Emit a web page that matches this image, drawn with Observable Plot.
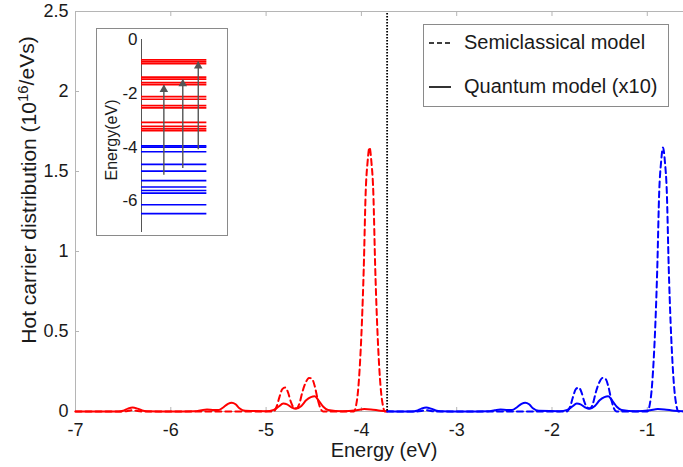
<!DOCTYPE html>
<html><head><meta charset="utf-8">
<script src="https://cdn.jsdelivr.net/npm/d3@7"></script>
<script src="https://cdn.jsdelivr.net/npm/@observablehq/plot@0.6"></script>
<style>
body{margin:0;background:#fff;}
#wrap{position:relative;width:683px;height:467px;font-family:"Liberation Sans",Arial,sans-serif;}
#inset{position:absolute;left:96px;top:28px;border:1px solid #8a8a8a;background:#fff;line-height:0;}
</style></head><body><div id="wrap"><div id="main"></div><div id="inset"></div></div>
<script>
// ---------- data ----------
const xTicks = [-7, -6, -5, -4, -3, -2, -1];
const yTicks = [0, 0.5, 1, 1.5, 2, 2.5];
const xDomain = [-7, -0.62];
const yDomain = [0, 2.5];
const fermiLevel = -3.73;

// Semiclassical model (dashed), red: below Fermi level
const redSemi = [[-7,0],[-6.5,0],[-6.44,0.004],[-6.4,0.008],[-6.36,0.004],[-6.3,0],[-4.92,0],[-4.89,0.03],[-4.86,0.09],[-4.83,0.14],[-4.80,0.15],[-4.77,0.12],[-4.74,0.06],[-4.71,0.025],[-4.68,0.02],[-4.65,0.05],[-4.62,0.12],[-4.585,0.18],[-4.55,0.21],[-4.52,0.205],[-4.49,0.16],[-4.46,0.08],[-4.43,0.02],[-4.40,0],[-4.08,0],[-4.055,0.04],[-4.035,0.13],[-4.015,0.3],[-3.995,0.55],[-3.975,0.9],[-3.955,1.37],[-3.935,1.56],[-3.915,1.65],[-3.895,1.56],[-3.875,1.37],[-3.855,0.9],[-3.835,0.55],[-3.815,0.3],[-3.795,0.13],[-3.775,0.04],[-3.755,0],[-3.73,0]];
// Quantum model x10 (solid), red
const redQuantum = [[-7,0],[-6.55,0],[-6.5,0.005],[-6.45,0.018],[-6.4,0.025],[-6.35,0.018],[-6.3,0.006],[-6.25,0.002],[-6.0,0],[-5.75,0.002],[-5.68,0.008],[-5.62,0.012],[-5.56,0.01],[-5.5,0.009],[-5.45,0.025],[-5.40,0.048],[-5.36,0.055],[-5.32,0.045],[-5.28,0.02],[-5.22,0.004],[-5.0,0.002],[-4.92,0.01],[-4.87,0.03],[-4.82,0.05],[-4.78,0.045],[-4.73,0.025],[-4.69,0.017],[-4.63,0.035],[-4.58,0.07],[-4.53,0.09],[-4.49,0.095],[-4.45,0.07],[-4.40,0.03],[-4.35,0.01],[-4.2,0.002],[-4.05,0.008],[-3.97,0.015],[-3.9,0.013],[-3.8,0.005],[-3.73,0.002]];
// Semiclassical model (dashed), blue: above Fermi level
const blueSemi = [[-3.73,0],[-3.42,0],[-3.36,0.004],[-3.32,0.008],[-3.28,0.004],[-3.22,0],[-1.84,0],[-1.81,0.03],[-1.78,0.09],[-1.75,0.14],[-1.72,0.15],[-1.69,0.12],[-1.66,0.06],[-1.63,0.025],[-1.60,0.02],[-1.57,0.05],[-1.54,0.12],[-1.505,0.18],[-1.47,0.21],[-1.44,0.205],[-1.41,0.16],[-1.38,0.08],[-1.35,0.02],[-1.32,0],[-1.0,0],[-0.975,0.04],[-0.955,0.13],[-0.935,0.3],[-0.915,0.55],[-0.895,0.9],[-0.875,1.37],[-0.855,1.56],[-0.835,1.65],[-0.815,1.56],[-0.795,1.37],[-0.775,0.9],[-0.755,0.55],[-0.735,0.3],[-0.715,0.13],[-0.695,0.04],[-0.675,0],[-0.62,0]];
// Quantum model x10 (solid), blue
const blueQuantum = [[-3.73,0.002],[-3.47,0],[-3.42,0.005],[-3.37,0.018],[-3.32,0.025],[-3.27,0.018],[-3.22,0.006],[-3.17,0.002],[-2.92,0],[-2.67,0.002],[-2.60,0.008],[-2.54,0.012],[-2.48,0.01],[-2.42,0.009],[-2.37,0.025],[-2.32,0.048],[-2.28,0.055],[-2.24,0.045],[-2.20,0.02],[-2.14,0.004],[-1.92,0.002],[-1.84,0.01],[-1.79,0.03],[-1.74,0.05],[-1.70,0.045],[-1.65,0.025],[-1.61,0.017],[-1.55,0.035],[-1.50,0.07],[-1.45,0.09],[-1.41,0.095],[-1.37,0.07],[-1.32,0.03],[-1.27,0.01],[-1.12,0.002],[-0.97,0.008],[-0.89,0.015],[-0.82,0.013],[-0.72,0.005],[-0.62,0.002]];

// Inset: energy levels (eV)
const insetTicks = [0, -2, -4, -6];
const insetDomain = [-7.17, 0];
const redLevels = [-0.755,-0.83,-0.90,-1.40,-1.47,-1.60,-1.68,-2.12,-2.22,-2.46,-2.54,-3.08,-3.23,-3.32,-3.39];
const blueLevels = [-3.95,-4.00,-4.17,-4.64,-4.89,-5.24,-5.48,-5.61,-5.71,-6.14,-6.47];
const transitions = [
  {pos: 0.26, from: -4.89, to: -1.71},
  {pos: 0.48, from: -4.64, to: -1.50},
  {pos: 0.66, from: -3.95, to: -0.84}
];
const legendItems = [
  {label: "Semiclassical model", dash: "5,3"},
  {label: "Quantum model (x10)", dash: null}
];

// ---------- main chart ----------
const axisGrey = "#b5b5b5";
const font = "Liberation Sans, Arial, sans-serif";
const X = d => d[0], Y = d => d[1];

const main = Plot.plot({
  width: 683, height: 467,
  marginLeft: 75, marginRight: 0, marginTop: 11, marginBottom: 56,
  x: {domain: xDomain},
  y: {domain: yDomain},
  style: {fontFamily: font, fontSize: "18px", background: "white", color: "#1a1a1a", overflow: "visible"},
  marks: [
    Plot.ruleY([yDomain[0]], {stroke: axisGrey}),
    Plot.ruleY([yDomain[1]], {stroke: axisGrey}),
    Plot.ruleX([xDomain[0]], {stroke: axisGrey}),
    Plot.axisX({ticks: xTicks, tickSize: -4, tickPadding: 16, stroke: axisGrey, label: null, tickFormat: d => String(d)}),
    Plot.axisX({anchor: "top", ticks: xTicks, tickSize: -4, stroke: axisGrey, label: null, tickFormat: () => ""}),
    Plot.axisY({ticks: yTicks, tickSize: -4, tickPadding: 11, stroke: axisGrey, label: null, tickFormat: d => String(d)}),
    Plot.line(redQuantum, {x: X, y: Y, stroke: "#ff0000", strokeWidth: 2, curve: "monotone-x"}),
    Plot.line(blueQuantum, {x: X, y: Y, stroke: "#0000ff", strokeWidth: 2, curve: "monotone-x"}),
    Plot.line(redSemi, {x: X, y: Y, stroke: "#ff0000", strokeWidth: 2, strokeDasharray: "6,4", curve: "monotone-x"}),
    Plot.line(blueSemi, {x: X, y: Y, stroke: "#0000ff", strokeWidth: 2, strokeDasharray: "6,4", curve: "monotone-x"}),
    Plot.ruleX([fermiLevel], {stroke: "black", strokeWidth: 1.8, strokeDasharray: "1.5,1.5", insetTop: 2})
  ]
});
document.getElementById("main").appendChild(main);

const svg = d3.select(main);
// axis titles
svg.append("text").attr("x", 384).attr("y", 457).attr("text-anchor", "middle")
  .attr("font-family", font).attr("font-size", 20).attr("fill", "#1a1a1a").text("Energy (eV)");
const yl = svg.append("text").attr("transform", "translate(36,190) rotate(-90)").attr("text-anchor", "middle")
  .attr("font-family", font).attr("font-size", 21).attr("fill", "#1a1a1a");
yl.append("tspan").text("Hot carrier distribution (10");
yl.append("tspan").attr("font-size", 15).attr("dy", -8).text("16");
yl.append("tspan").attr("dy", 6).text("/eVs)");

// legend box
const lg = svg.append("g");
lg.append("rect").attr("x", 423.5).attr("y", 24.5).attr("width", 245).attr("height", 82)
  .attr("fill", "white").attr("stroke", "#8a8a8a");
legendItems.forEach((it, i) => {
  const cy = 43 + i * 44;
  lg.append("line").attr("x1", 429).attr("x2", 451).attr("y1", cy).attr("y2", cy)
    .attr("stroke", "black").attr("stroke-width", 1.6).attr("stroke-dasharray", it.dash);
  lg.append("text").attr("x", 464).attr("y", cy + 6).attr("text-anchor", "start")
    .attr("font-family", font).attr("font-size", 20)
    .attr("fill", "#1a1a1a").text(it.label);
});

// ---------- inset ----------
const inset = Plot.plot({
  width: 130, height: 206,
  marginLeft: 44, marginRight: 0, marginTop: 10, marginBottom: 3,
  x: {domain: [0, 1], axis: null},
  y: {domain: insetDomain},
  style: {fontFamily: font, fontSize: "17px", background: "white", color: "#1a1a1a"},
  marks: [
    Plot.ruleX([0], {stroke: "#555", strokeWidth: 1}),
    Plot.axisY({ticks: insetTicks, tickSize: 0, tickPadding: 4, label: null, tickFormat: d => String(d)}),
    Plot.ruleY(redLevels, {x1: 0, x2: 0.76, stroke: "#ff0000", strokeWidth: 1.7}),
    Plot.ruleY(blueLevels, {x1: 0, x2: 0.76, stroke: "#0000ff", strokeWidth: 1.7}),
    Plot.ruleX(transitions, {x: "pos", y1: "from", y2: "to", stroke: "#555", strokeWidth: 1.4, insetTop: 4}),
    Plot.dot(transitions, {x: "pos", y: "to", symbol: "triangle", fill: "#555", r: 3.2, dy: 4})
  ]
});
document.getElementById("inset").appendChild(inset);
d3.select(inset).append("text").attr("transform", "translate(20,111) rotate(-90)").attr("text-anchor", "middle")
  .attr("font-family", font).attr("font-size", 16).attr("fill", "#1a1a1a").text("Energy(eV)");
</script></body></html>
